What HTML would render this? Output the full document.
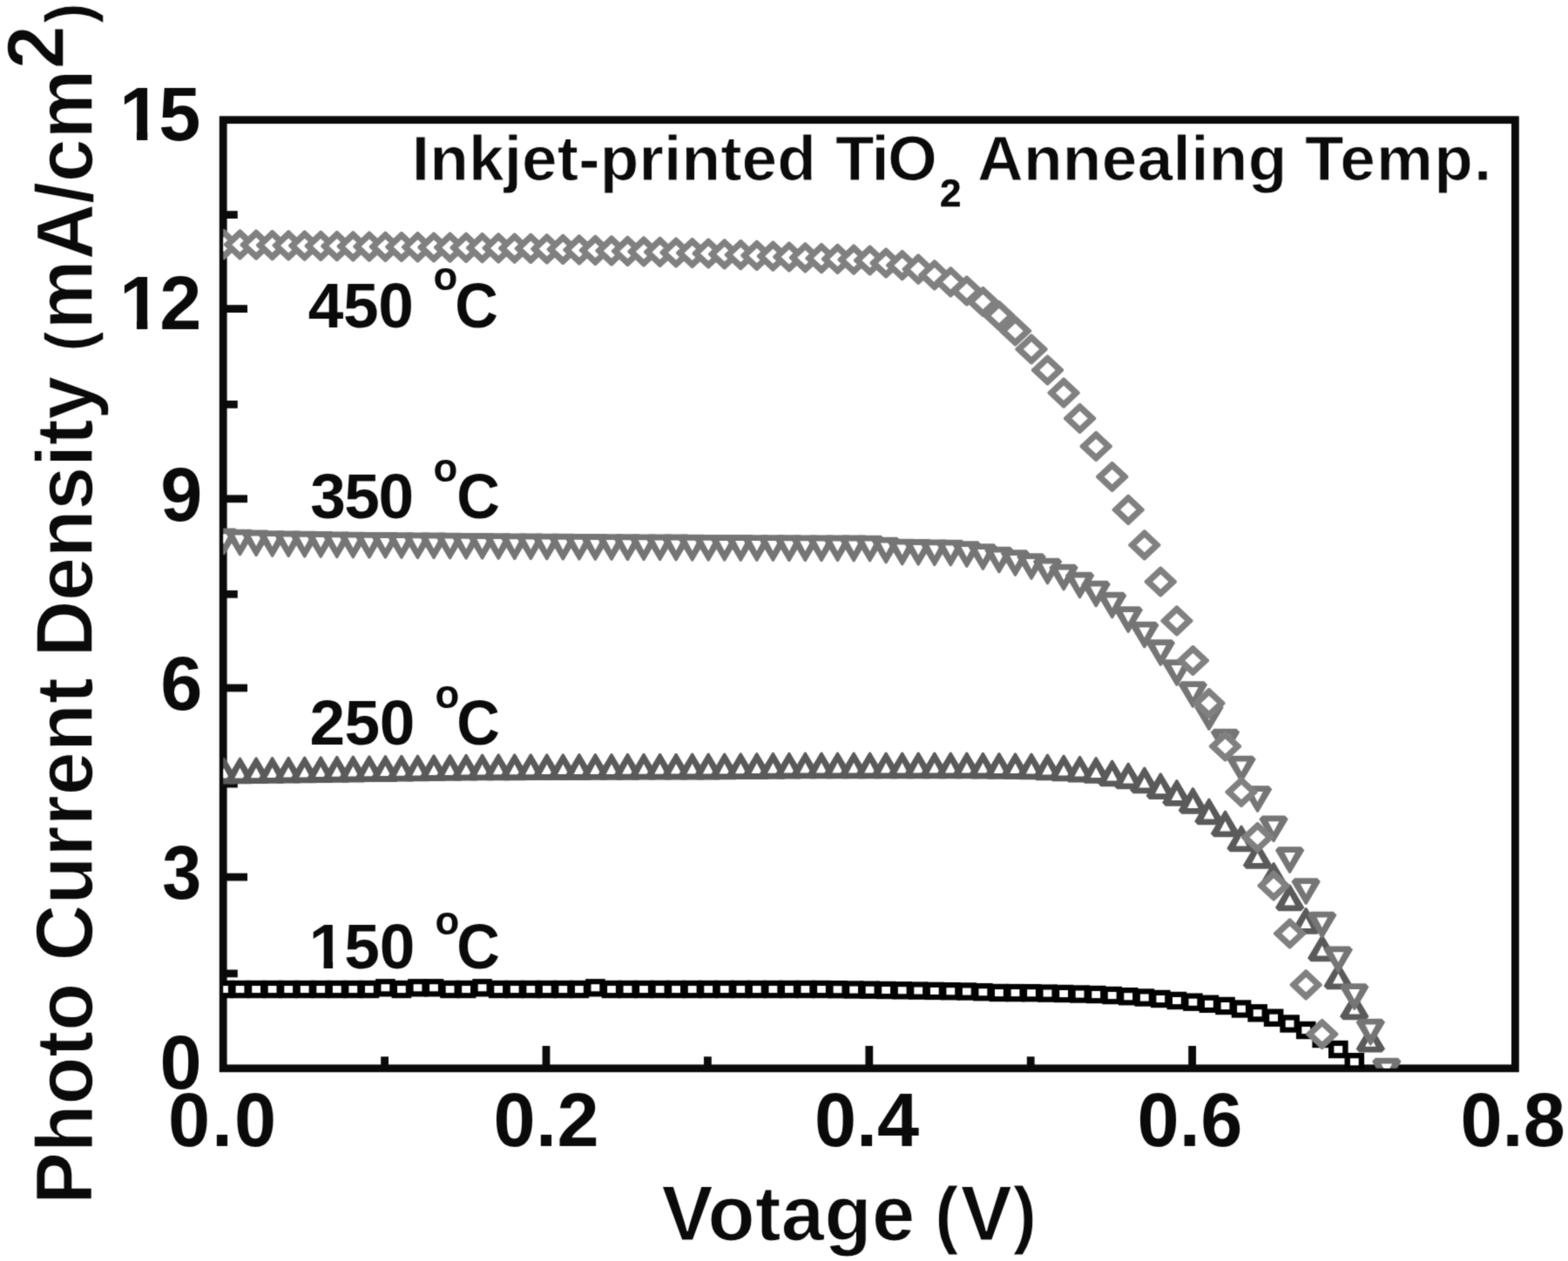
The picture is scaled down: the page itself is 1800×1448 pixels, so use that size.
<!DOCTYPE html>
<html lang="en">
<head>
<meta charset="utf-8">
<title>Photo Current Density vs Votage</title>
<style>
html,body{margin:0;padding:0;background:#fff;}
body{width:1800px;height:1448px;overflow:hidden;}
svg{display:block;}
text{font-family:"Liberation Sans",sans-serif;font-weight:bold;fill:#0a0a0a;}
</style>
</head>
<body>
<svg width="1800" height="1448" viewBox="0 0 1800 1448">
<filter id="soften" x="0" y="0" width="1800" height="1448" filterUnits="userSpaceOnUse" color-interpolation-filters="sRGB"><feConvolveMatrix order="3" kernelMatrix="1 4 1 4 16 4 1 4 1" divisor="36" edgeMode="duplicate" preserveAlpha="true"/></filter>
<g filter="url(#soften)">
<rect width="1800" height="1448" fill="#fff"/>
<g fill="#0a0a0a">
<rect x="256.2" y="1002.7" width="27.8" height="8.8"/>
<rect x="256.2" y="785.6" width="27.8" height="8.8"/>
<rect x="256.2" y="568.4" width="27.8" height="8.8"/>
<rect x="256.2" y="350.2" width="27.8" height="8.8"/>
<rect x="256.2" y="1113.5" width="16.6" height="8.8"/>
<rect x="256.2" y="895.7" width="16.6" height="8.8"/>
<rect x="256.2" y="677.9" width="16.6" height="8.8"/>
<rect x="256.2" y="460" width="16.6" height="8.8"/>
<rect x="256.2" y="242.2" width="16.6" height="8.8"/>
<rect x="622.6" y="1201" width="8.8" height="25.8"/>
<rect x="993.4" y="1201" width="8.8" height="25.8"/>
<rect x="1364.2" y="1201" width="8.8" height="25.8"/>
<rect x="437.2" y="1213.3" width="8.8" height="13.5"/>
<rect x="808" y="1213.3" width="8.8" height="13.5"/>
<rect x="1178.8" y="1213.3" width="8.8" height="13.5"/>
<rect x="1549.6" y="1213.3" width="8.8" height="13.5"/>
</g>
<rect x="256.2" y="137.7" width="1483.2" height="1089.1" fill="none" stroke="#0a0a0a" stroke-width="8.8"/>
<clipPath id="plotArea"><rect x="256.2" y="137.7" width="1483.2" height="1089.1"/></clipPath>
<g clip-path="url(#plotArea)">
<g>
<rect x="245.7" y="1125.8" width="22.6" height="20.4" fill="#000000"/><rect x="252.1" y="1132" width="9.8" height="8.1" fill="#fff"/><rect x="264.2" y="1125.8" width="22.6" height="20.4" fill="#000000"/><rect x="270.6" y="1132" width="9.8" height="8.1" fill="#fff"/><rect x="282.8" y="1125.8" width="22.6" height="20.4" fill="#000000"/><rect x="289.2" y="1132" width="9.8" height="8.1" fill="#fff"/><rect x="301.3" y="1125.8" width="22.6" height="20.4" fill="#000000"/><rect x="307.7" y="1132" width="9.8" height="8.1" fill="#fff"/><rect x="319.9" y="1125.8" width="22.6" height="20.4" fill="#000000"/><rect x="326.3" y="1132" width="9.8" height="8.1" fill="#fff"/><rect x="338.4" y="1125.8" width="22.6" height="20.4" fill="#000000"/><rect x="344.8" y="1132" width="9.8" height="8.1" fill="#fff"/><rect x="356.9" y="1125.8" width="22.6" height="20.4" fill="#000000"/><rect x="363.3" y="1132" width="9.8" height="8.1" fill="#fff"/><rect x="375.5" y="1125.8" width="22.6" height="20.4" fill="#000000"/><rect x="381.9" y="1132" width="9.8" height="8.1" fill="#fff"/><rect x="394" y="1125.8" width="22.6" height="20.4" fill="#000000"/><rect x="400.4" y="1132" width="9.8" height="8.1" fill="#fff"/><rect x="412.6" y="1125.8" width="22.6" height="20.4" fill="#000000"/><rect x="419" y="1132" width="9.8" height="8.1" fill="#fff"/><rect x="431.1" y="1124.1" width="22.6" height="20.4" fill="#000000"/><rect x="437.5" y="1130.2" width="9.8" height="8.1" fill="#fff"/><rect x="449.6" y="1125.8" width="22.6" height="20.4" fill="#000000"/><rect x="456" y="1132" width="9.8" height="8.1" fill="#fff"/><rect x="468.2" y="1124.1" width="22.6" height="20.4" fill="#000000"/><rect x="474.6" y="1130.2" width="9.8" height="8.1" fill="#fff"/><rect x="486.7" y="1124.1" width="22.6" height="20.4" fill="#000000"/><rect x="493.1" y="1130.2" width="9.8" height="8.1" fill="#fff"/><rect x="505.3" y="1125.8" width="22.6" height="20.4" fill="#000000"/><rect x="511.7" y="1132" width="9.8" height="8.1" fill="#fff"/><rect x="523.8" y="1125.8" width="22.6" height="20.4" fill="#000000"/><rect x="530.2" y="1132" width="9.8" height="8.1" fill="#fff"/><rect x="542.3" y="1124.1" width="22.6" height="20.4" fill="#000000"/><rect x="548.7" y="1130.2" width="9.8" height="8.1" fill="#fff"/><rect x="560.9" y="1125.8" width="22.6" height="20.4" fill="#000000"/><rect x="567.3" y="1132" width="9.8" height="8.1" fill="#fff"/><rect x="579.4" y="1125.8" width="22.6" height="20.4" fill="#000000"/><rect x="585.8" y="1132" width="9.8" height="8.1" fill="#fff"/><rect x="598" y="1125.8" width="22.6" height="20.4" fill="#000000"/><rect x="604.4" y="1132" width="9.8" height="8.1" fill="#fff"/><rect x="616.5" y="1125.8" width="22.6" height="20.4" fill="#000000"/><rect x="622.9" y="1132" width="9.8" height="8.1" fill="#fff"/><rect x="635" y="1125.8" width="22.6" height="20.4" fill="#000000"/><rect x="641.4" y="1132" width="9.8" height="8.1" fill="#fff"/><rect x="653.6" y="1125.8" width="22.6" height="20.4" fill="#000000"/><rect x="660" y="1132" width="9.8" height="8.1" fill="#fff"/><rect x="672.1" y="1124.1" width="22.6" height="20.4" fill="#000000"/><rect x="678.5" y="1130.2" width="9.8" height="8.1" fill="#fff"/><rect x="690.7" y="1125.8" width="22.6" height="20.4" fill="#000000"/><rect x="697.1" y="1132" width="9.8" height="8.1" fill="#fff"/><rect x="709.2" y="1125.8" width="22.6" height="20.4" fill="#000000"/><rect x="715.6" y="1132" width="9.8" height="8.1" fill="#fff"/><rect x="727.7" y="1125.8" width="22.6" height="20.4" fill="#000000"/><rect x="734.1" y="1132" width="9.8" height="8.1" fill="#fff"/><rect x="746.3" y="1125.8" width="22.6" height="20.4" fill="#000000"/><rect x="752.7" y="1132" width="9.8" height="8.1" fill="#fff"/><rect x="764.8" y="1125.8" width="22.6" height="20.4" fill="#000000"/><rect x="771.2" y="1132" width="9.8" height="8.1" fill="#fff"/><rect x="783.4" y="1125.8" width="22.6" height="20.4" fill="#000000"/><rect x="789.8" y="1132" width="9.8" height="8.1" fill="#fff"/><rect x="801.9" y="1125.8" width="22.6" height="20.4" fill="#000000"/><rect x="808.3" y="1132" width="9.8" height="8.1" fill="#fff"/><rect x="820.4" y="1125.8" width="22.6" height="20.4" fill="#000000"/><rect x="826.8" y="1132" width="9.8" height="8.1" fill="#fff"/><rect x="839" y="1125.8" width="22.6" height="20.4" fill="#000000"/><rect x="845.4" y="1132" width="9.8" height="8.1" fill="#fff"/><rect x="857.5" y="1125.8" width="22.6" height="20.4" fill="#000000"/><rect x="863.9" y="1132" width="9.8" height="8.1" fill="#fff"/><rect x="876.1" y="1125.8" width="22.6" height="20.4" fill="#000000"/><rect x="882.5" y="1132" width="9.8" height="8.1" fill="#fff"/><rect x="894.6" y="1125.8" width="22.6" height="20.4" fill="#000000"/><rect x="901" y="1132" width="9.8" height="8.1" fill="#fff"/><rect x="913.1" y="1125.8" width="22.6" height="20.4" fill="#000000"/><rect x="919.5" y="1132" width="9.8" height="8.1" fill="#fff"/><rect x="931.7" y="1125.8" width="22.6" height="20.4" fill="#000000"/><rect x="938.1" y="1132" width="9.8" height="8.1" fill="#fff"/><rect x="950.2" y="1126" width="22.6" height="20.4" fill="#000000"/><rect x="956.6" y="1132.2" width="9.8" height="8.1" fill="#fff"/><rect x="968.8" y="1126.3" width="22.6" height="20.4" fill="#000000"/><rect x="975.2" y="1132.5" width="9.8" height="8.1" fill="#fff"/><rect x="987.3" y="1126.5" width="22.6" height="20.4" fill="#000000"/><rect x="993.7" y="1132.7" width="9.8" height="8.1" fill="#fff"/><rect x="1005.8" y="1126.8" width="22.6" height="20.4" fill="#000000"/><rect x="1012.2" y="1133" width="9.8" height="8.1" fill="#fff"/><rect x="1024.4" y="1127.1" width="22.6" height="20.4" fill="#000000"/><rect x="1030.8" y="1133.2" width="9.8" height="8.1" fill="#fff"/><rect x="1042.9" y="1127.4" width="22.6" height="20.4" fill="#000000"/><rect x="1049.3" y="1133.5" width="9.8" height="8.1" fill="#fff"/><rect x="1061.5" y="1127.7" width="22.6" height="20.4" fill="#000000"/><rect x="1067.9" y="1133.9" width="9.8" height="8.1" fill="#fff"/><rect x="1080" y="1128" width="22.6" height="20.4" fill="#000000"/><rect x="1086.4" y="1134.2" width="9.8" height="8.1" fill="#fff"/><rect x="1098.5" y="1128.3" width="22.6" height="20.4" fill="#000000"/><rect x="1104.9" y="1134.5" width="9.8" height="8.1" fill="#fff"/><rect x="1117.1" y="1129" width="22.6" height="20.4" fill="#000000"/><rect x="1123.5" y="1135.2" width="9.8" height="8.1" fill="#fff"/><rect x="1135.6" y="1129.8" width="22.6" height="20.4" fill="#000000"/><rect x="1142" y="1136" width="9.8" height="8.1" fill="#fff"/><rect x="1154.2" y="1129.9" width="22.6" height="20.4" fill="#000000"/><rect x="1160.6" y="1136" width="9.8" height="8.1" fill="#fff"/><rect x="1172.7" y="1130" width="22.6" height="20.4" fill="#000000"/><rect x="1179.1" y="1136.2" width="9.8" height="8.1" fill="#fff"/><rect x="1191.2" y="1130.4" width="22.6" height="20.4" fill="#000000"/><rect x="1197.6" y="1136.5" width="9.8" height="8.1" fill="#fff"/><rect x="1209.8" y="1130.8" width="22.6" height="20.4" fill="#000000"/><rect x="1216.2" y="1137" width="9.8" height="8.1" fill="#fff"/><rect x="1228.3" y="1131.3" width="22.6" height="20.4" fill="#000000"/><rect x="1234.7" y="1137.5" width="9.8" height="8.1" fill="#fff"/><rect x="1246.9" y="1131.8" width="22.6" height="20.4" fill="#000000"/><rect x="1253.3" y="1138" width="9.8" height="8.1" fill="#fff"/><rect x="1265.4" y="1132.8" width="22.6" height="20.4" fill="#000000"/><rect x="1271.8" y="1139" width="9.8" height="8.1" fill="#fff"/><rect x="1283.9" y="1134" width="22.6" height="20.4" fill="#000000"/><rect x="1290.3" y="1140.2" width="9.8" height="8.1" fill="#fff"/><rect x="1302.5" y="1135.3" width="22.6" height="20.4" fill="#000000"/><rect x="1308.9" y="1141.5" width="9.8" height="8.1" fill="#fff"/><rect x="1321" y="1136.8" width="22.6" height="20.4" fill="#000000"/><rect x="1327.4" y="1143" width="9.8" height="8.1" fill="#fff"/><rect x="1339.6" y="1138.8" width="22.6" height="20.4" fill="#000000"/><rect x="1346" y="1145" width="9.8" height="8.1" fill="#fff"/><rect x="1358.1" y="1140.5" width="22.6" height="20.4" fill="#000000"/><rect x="1364.5" y="1146.7" width="9.8" height="8.1" fill="#fff"/><rect x="1376.6" y="1142.6" width="22.6" height="20.4" fill="#000000"/><rect x="1383" y="1148.8" width="9.8" height="8.1" fill="#fff"/><rect x="1395.2" y="1144.8" width="22.6" height="20.4" fill="#000000"/><rect x="1401.6" y="1151" width="9.8" height="8.1" fill="#fff"/><rect x="1413.7" y="1148.3" width="22.6" height="20.4" fill="#000000"/><rect x="1420.1" y="1154.5" width="9.8" height="8.1" fill="#fff"/><rect x="1432.3" y="1153.1" width="22.6" height="20.4" fill="#000000"/><rect x="1438.7" y="1159.2" width="9.8" height="8.1" fill="#fff"/><rect x="1450.8" y="1158.5" width="22.6" height="20.4" fill="#000000"/><rect x="1457.2" y="1164.7" width="9.8" height="8.1" fill="#fff"/><rect x="1469.3" y="1165.3" width="22.6" height="20.4" fill="#000000"/><rect x="1475.7" y="1171.5" width="9.8" height="8.1" fill="#fff"/><rect x="1487.9" y="1172.8" width="22.6" height="20.4" fill="#000000"/><rect x="1494.3" y="1179" width="9.8" height="8.1" fill="#fff"/><rect x="1506.4" y="1182.8" width="22.6" height="20.4" fill="#000000"/><rect x="1512.8" y="1189" width="9.8" height="8.1" fill="#fff"/><rect x="1525" y="1194.8" width="22.6" height="20.4" fill="#000000"/><rect x="1531.4" y="1201" width="9.8" height="8.1" fill="#fff"/><rect x="1543.5" y="1209" width="22.6" height="20.4" fill="#000000"/><rect x="1549.9" y="1215.2" width="9.8" height="8.1" fill="#fff"/>
</g>
<g>
<polygon points="244,900.5 270,900.5 273.8,896.4 258,869.9 256,869.9 240.2,896.4" fill="#5a5a5a"/><polygon points="250.8,893.6 263.2,893.6 257,881.9" fill="#fff"/><polygon points="262.5,900.3 288.5,900.3 292.3,896.2 276.5,869.7 274.5,869.7 258.8,896.2" fill="#5a5a5a"/><polygon points="269.3,893.4 281.8,893.4 275.5,881.7" fill="#fff"/><polygon points="281.1,900.1 307.1,900.1 310.8,896 295.1,869.5 293.1,869.5 277.3,896" fill="#5a5a5a"/><polygon points="287.8,893.2 300.3,893.2 294.1,881.5" fill="#fff"/><polygon points="299.6,899.8 325.6,899.8 329.4,895.7 313.6,869.2 311.6,869.2 295.9,895.7" fill="#5a5a5a"/><polygon points="306.4,892.9 318.9,892.9 312.6,881.2" fill="#fff"/><polygon points="318.2,899.5 344.2,899.5 347.9,895.4 332.2,868.9 330.2,868.9 314.4,895.4" fill="#5a5a5a"/><polygon points="324.9,892.6 337.4,892.6 331.2,880.9" fill="#fff"/><polygon points="336.7,899.3 362.7,899.3 366.4,895.2 350.7,868.7 348.7,868.7 332.9,895.2" fill="#5a5a5a"/><polygon points="343.4,892.4 355.9,892.4 349.7,880.7" fill="#fff"/><polygon points="355.2,899 381.2,899 385,894.9 369.2,868.4 367.2,868.4 351.5,894.9" fill="#5a5a5a"/><polygon points="362,892.1 374.5,892.1 368.2,880.4" fill="#fff"/><polygon points="373.8,898.7 399.8,898.7 403.5,894.6 387.8,868.1 385.8,868.1 370,894.6" fill="#5a5a5a"/><polygon points="380.5,891.8 393,891.8 386.8,880.1" fill="#fff"/><polygon points="392.3,898.4 418.3,898.4 422.1,894.3 406.3,867.8 404.3,867.8 388.6,894.3" fill="#5a5a5a"/><polygon points="399.1,891.5 411.6,891.5 405.3,879.8" fill="#fff"/><polygon points="410.9,898.1 436.9,898.1 440.6,894 424.9,867.5 422.9,867.5 407.1,894" fill="#5a5a5a"/><polygon points="417.6,891.2 430.1,891.2 423.9,879.5" fill="#fff"/><polygon points="429.4,897.9 455.4,897.9 459.1,893.8 443.4,867.3 441.4,867.3 425.6,893.8" fill="#5a5a5a"/><polygon points="436.1,891 448.6,891 442.4,879.3" fill="#fff"/><polygon points="447.9,897.6 473.9,897.6 477.7,893.5 461.9,867 459.9,867 444.2,893.5" fill="#5a5a5a"/><polygon points="454.7,890.7 467.2,890.7 460.9,879" fill="#fff"/><polygon points="466.5,897.3 492.5,897.3 496.2,893.2 480.5,866.7 478.5,866.7 462.7,893.2" fill="#5a5a5a"/><polygon points="473.2,890.4 485.7,890.4 479.5,878.7" fill="#fff"/><polygon points="485,897 511,897 514.8,893 499,866.5 497,866.5 481.3,893" fill="#5a5a5a"/><polygon points="491.8,890.1 504.3,890.1 498,878.5" fill="#fff"/><polygon points="503.6,896.8 529.6,896.8 533.3,892.7 517.6,866.2 515.6,866.2 499.8,892.7" fill="#5a5a5a"/><polygon points="510.3,889.9 522.8,889.9 516.6,878.2" fill="#fff"/><polygon points="522.1,896.5 548.1,896.5 551.8,892.5 536.1,866 534.1,866 518.3,892.5" fill="#5a5a5a"/><polygon points="528.8,889.6 541.3,889.6 535.1,878" fill="#fff"/><polygon points="540.6,896.3 566.6,896.3 570.4,892.2 554.6,865.7 552.6,865.7 536.9,892.2" fill="#5a5a5a"/><polygon points="547.4,889.4 559.9,889.4 553.6,877.7" fill="#fff"/><polygon points="559.2,896.2 585.2,896.2 588.9,892.1 573.2,865.6 571.2,865.6 555.4,892.1" fill="#5a5a5a"/><polygon points="565.9,889.3 578.4,889.3 572.2,877.6" fill="#fff"/><polygon points="577.7,896.2 603.7,896.2 607.5,892.1 591.7,865.6 589.7,865.6 574,892.1" fill="#5a5a5a"/><polygon points="584.5,889.3 597,889.3 590.7,877.6" fill="#fff"/><polygon points="596.3,896.1 622.3,896.1 626,892 610.3,865.5 608.3,865.5 592.5,892" fill="#5a5a5a"/><polygon points="603,889.2 615.5,889.2 609.3,877.5" fill="#fff"/><polygon points="614.8,896 640.8,896 644.5,891.9 628.8,865.4 626.8,865.4 611,891.9" fill="#5a5a5a"/><polygon points="621.5,889.1 634,889.1 627.8,877.4" fill="#fff"/><polygon points="633.3,896 659.3,896 663.1,891.9 647.3,865.4 645.3,865.4 629.6,891.9" fill="#5a5a5a"/><polygon points="640.1,889.1 652.6,889.1 646.3,877.4" fill="#fff"/><polygon points="651.9,895.9 677.9,895.9 681.6,891.8 665.9,865.3 663.9,865.3 648.1,891.8" fill="#5a5a5a"/><polygon points="658.6,889 671.1,889 664.9,877.3" fill="#fff"/><polygon points="670.4,895.8 696.4,895.8 700.2,891.7 684.4,865.2 682.4,865.2 666.7,891.7" fill="#5a5a5a"/><polygon points="677.2,888.9 689.7,888.9 683.4,877.2" fill="#fff"/><polygon points="689,895.8 715,895.8 718.7,891.7 703,865.2 701,865.2 685.2,891.7" fill="#5a5a5a"/><polygon points="695.7,888.9 708.2,888.9 702,877.2" fill="#fff"/><polygon points="707.5,895.7 733.5,895.7 737.2,891.6 721.5,865.1 719.5,865.1 703.8,891.6" fill="#5a5a5a"/><polygon points="714.2,888.8 726.8,888.8 720.5,877.1" fill="#fff"/><polygon points="726,895.6 752,895.6 755.8,891.5 740,865 738,865 722.3,891.5" fill="#5a5a5a"/><polygon points="732.8,888.7 745.3,888.7 739,877" fill="#fff"/><polygon points="744.6,895.6 770.6,895.6 774.3,891.5 758.6,865 756.6,865 740.8,891.5" fill="#5a5a5a"/><polygon points="751.3,888.7 763.8,888.7 757.6,877" fill="#fff"/><polygon points="763.1,895.5 789.1,895.5 792.9,891.4 777.1,864.9 775.1,864.9 759.4,891.4" fill="#5a5a5a"/><polygon points="769.9,888.6 782.4,888.6 776.1,876.9" fill="#fff"/><polygon points="781.7,895.4 807.7,895.4 811.4,891.3 795.7,864.8 793.7,864.8 777.9,891.3" fill="#5a5a5a"/><polygon points="788.4,888.5 800.9,888.5 794.7,876.8" fill="#fff"/><polygon points="800.2,895.4 826.2,895.4 829.9,891.3 814.2,864.8 812.2,864.8 796.4,891.3" fill="#5a5a5a"/><polygon points="806.9,888.5 819.4,888.5 813.2,876.8" fill="#fff"/><polygon points="818.7,895.3 844.7,895.3 848.5,891.2 832.7,864.7 830.7,864.7 815,891.2" fill="#5a5a5a"/><polygon points="825.5,888.4 838,888.4 831.7,876.7" fill="#fff"/><polygon points="837.3,895.1 863.3,895.1 867,891 851.3,864.5 849.3,864.5 833.5,891" fill="#5a5a5a"/><polygon points="844,888.2 856.5,888.2 850.3,876.5" fill="#fff"/><polygon points="855.8,894.9 881.8,894.9 885.6,890.8 869.8,864.3 867.8,864.3 852.1,890.8" fill="#5a5a5a"/><polygon points="862.6,888 875.1,888 868.8,876.3" fill="#fff"/><polygon points="874.4,894.7 900.4,894.7 904.1,890.6 888.4,864.1 886.4,864.1 870.6,890.6" fill="#5a5a5a"/><polygon points="881.1,887.8 893.6,887.8 887.4,876.1" fill="#fff"/><polygon points="892.9,894.5 918.9,894.5 922.6,890.4 906.9,863.9 904.9,863.9 889.1,890.4" fill="#5a5a5a"/><polygon points="899.6,887.6 912.1,887.6 905.9,875.9" fill="#fff"/><polygon points="911.4,894.3 937.4,894.3 941.2,890.2 925.4,863.7 923.4,863.7 907.7,890.2" fill="#5a5a5a"/><polygon points="918.2,887.4 930.7,887.4 924.4,875.7" fill="#fff"/><polygon points="930,894.3 956,894.3 959.7,890.2 944,863.7 942,863.7 926.2,890.2" fill="#5a5a5a"/><polygon points="936.7,887.4 949.2,887.4 943,875.7" fill="#fff"/><polygon points="948.5,894.3 974.5,894.3 978.3,890.2 962.5,863.7 960.5,863.7 944.8,890.2" fill="#5a5a5a"/><polygon points="955.3,887.4 967.8,887.4 961.5,875.7" fill="#fff"/><polygon points="967.1,894.3 993.1,894.3 996.8,890.2 981.1,863.7 979.1,863.7 963.3,890.2" fill="#5a5a5a"/><polygon points="973.8,887.4 986.3,887.4 980.1,875.7" fill="#fff"/><polygon points="985.6,894.3 1011.6,894.3 1015.3,890.2 999.6,863.7 997.6,863.7 981.8,890.2" fill="#5a5a5a"/><polygon points="992.3,887.4 1004.8,887.4 998.6,875.7" fill="#fff"/><polygon points="1004.1,894.3 1030.1,894.3 1033.9,890.2 1018.1,863.7 1016.1,863.7 1000.4,890.2" fill="#5a5a5a"/><polygon points="1010.9,887.4 1023.4,887.4 1017.1,875.7" fill="#fff"/><polygon points="1022.7,894.3 1048.7,894.3 1052.4,890.2 1036.7,863.7 1034.7,863.7 1018.9,890.2" fill="#5a5a5a"/><polygon points="1029.4,887.4 1041.9,887.4 1035.7,875.7" fill="#fff"/><polygon points="1041.2,894.3 1067.2,894.3 1071,890.2 1055.2,863.7 1053.2,863.7 1037.5,890.2" fill="#5a5a5a"/><polygon points="1048,887.4 1060.5,887.4 1054.2,875.7" fill="#fff"/><polygon points="1059.8,894.3 1085.8,894.3 1089.5,890.2 1073.8,863.7 1071.8,863.7 1056,890.2" fill="#5a5a5a"/><polygon points="1066.5,887.4 1079,887.4 1072.8,875.7" fill="#fff"/><polygon points="1078.3,894.3 1104.3,894.3 1108,890.2 1092.3,863.7 1090.3,863.7 1074.5,890.2" fill="#5a5a5a"/><polygon points="1085,887.4 1097.5,887.4 1091.3,875.7" fill="#fff"/><polygon points="1096.8,894.3 1122.8,894.3 1126.6,890.2 1110.8,863.7 1108.8,863.7 1093.1,890.2" fill="#5a5a5a"/><polygon points="1103.6,887.4 1116.1,887.4 1109.8,875.7" fill="#fff"/><polygon points="1115.4,894.5 1141.4,894.5 1145.1,890.5 1129.4,864 1127.4,864 1111.6,890.5" fill="#5a5a5a"/><polygon points="1122.1,887.6 1134.6,887.6 1128.4,876" fill="#fff"/><polygon points="1133.9,894.8 1159.9,894.8 1163.7,890.7 1147.9,864.2 1145.9,864.2 1130.2,890.7" fill="#5a5a5a"/><polygon points="1140.7,887.9 1153.2,887.9 1146.9,876.2" fill="#fff"/><polygon points="1152.5,895 1178.5,895 1182.2,891 1166.5,864.5 1164.5,864.5 1148.7,891" fill="#5a5a5a"/><polygon points="1159.2,888.1 1171.7,888.1 1165.5,876.5" fill="#fff"/><polygon points="1171,895.3 1197,895.3 1200.8,891.2 1185,864.7 1183,864.7 1167.2,891.2" fill="#5a5a5a"/><polygon points="1177.8,888.4 1190.2,888.4 1184,876.7" fill="#fff"/><polygon points="1189.5,896.3 1215.5,896.3 1219.3,892.2 1203.5,865.7 1201.5,865.7 1185.8,892.2" fill="#5a5a5a"/><polygon points="1196.3,889.4 1208.8,889.4 1202.5,877.7" fill="#fff"/><polygon points="1208.1,897.3 1234.1,897.3 1237.8,893.2 1222.1,866.7 1220.1,866.7 1204.3,893.2" fill="#5a5a5a"/><polygon points="1214.8,890.4 1227.3,890.4 1221.1,878.7" fill="#fff"/><polygon points="1226.6,898.5 1252.6,898.5 1256.4,894.5 1240.6,868 1238.6,868 1222.9,894.5" fill="#5a5a5a"/><polygon points="1233.4,891.6 1245.9,891.6 1239.6,880" fill="#fff"/><polygon points="1245.2,899.8 1271.2,899.8 1274.9,895.7 1259.2,869.2 1257.2,869.2 1241.4,895.7" fill="#5a5a5a"/><polygon points="1251.9,892.9 1264.4,892.9 1258.2,881.2" fill="#fff"/><polygon points="1263.7,903.3 1289.7,903.3 1293.4,899.2 1277.7,872.7 1275.7,872.7 1259.9,899.2" fill="#5a5a5a"/><polygon points="1270.4,896.4 1282.9,896.4 1276.7,884.7" fill="#fff"/><polygon points="1282.2,906.3 1308.2,906.3 1312,902.2 1296.2,875.7 1294.2,875.7 1278.5,902.2" fill="#5a5a5a"/><polygon points="1289,899.4 1301.5,899.4 1295.2,887.7" fill="#fff"/><polygon points="1300.8,911.3 1326.8,911.3 1330.5,907.2 1314.8,880.7 1312.8,880.7 1297,907.2" fill="#5a5a5a"/><polygon points="1307.5,904.4 1320,904.4 1313.8,892.7" fill="#fff"/><polygon points="1319.3,918.1 1345.3,918.1 1349.1,914 1333.3,887.5 1331.3,887.5 1315.6,914" fill="#5a5a5a"/><polygon points="1326.1,911.2 1338.6,911.2 1332.3,899.5" fill="#fff"/><polygon points="1337.9,925.8 1363.9,925.8 1367.6,921.7 1351.9,895.2 1349.9,895.2 1334.1,921.7" fill="#5a5a5a"/><polygon points="1344.6,918.9 1357.1,918.9 1350.9,907.2" fill="#fff"/><polygon points="1356.4,934.8 1382.4,934.8 1386.1,930.7 1370.4,904.2 1368.4,904.2 1352.6,930.7" fill="#5a5a5a"/><polygon points="1363.1,927.9 1375.6,927.9 1369.4,916.2" fill="#fff"/><polygon points="1374.9,947.3 1400.9,947.3 1404.7,943.2 1388.9,916.7 1386.9,916.7 1371.2,943.2" fill="#5a5a5a"/><polygon points="1381.7,940.4 1394.2,940.4 1387.9,928.7" fill="#fff"/><polygon points="1393.5,961.3 1419.5,961.3 1423.2,957.2 1407.5,930.7 1405.5,930.7 1389.7,957.2" fill="#5a5a5a"/><polygon points="1400.2,954.4 1412.7,954.4 1406.5,942.7" fill="#fff"/><polygon points="1412,978.3 1438,978.3 1441.8,974.2 1426,947.7 1424,947.7 1408.3,974.2" fill="#5a5a5a"/><polygon points="1418.8,971.4 1431.3,971.4 1425,959.7" fill="#fff"/><polygon points="1430.6,997.8 1456.6,997.8 1460.3,993.7 1444.6,967.2 1442.6,967.2 1426.8,993.7" fill="#5a5a5a"/><polygon points="1437.3,990.9 1449.8,990.9 1443.6,979.2" fill="#fff"/><polygon points="1449.1,1020.8 1475.1,1020.8 1478.8,1016.7 1463.1,990.2 1461.1,990.2 1445.3,1016.7" fill="#5a5a5a"/><polygon points="1455.8,1013.9 1468.3,1013.9 1462.1,1002.2" fill="#fff"/><polygon points="1467.6,1046.3 1493.6,1046.3 1497.4,1042.2 1481.6,1015.7 1479.6,1015.7 1463.9,1042.2" fill="#5a5a5a"/><polygon points="1474.4,1039.4 1486.9,1039.4 1480.6,1027.7" fill="#fff"/><polygon points="1486.2,1072.8 1512.2,1072.8 1515.9,1068.7 1500.2,1042.2 1498.2,1042.2 1482.4,1068.7" fill="#5a5a5a"/><polygon points="1492.9,1065.9 1505.4,1065.9 1499.2,1054.2" fill="#fff"/><polygon points="1504.7,1104.3 1530.7,1104.3 1534.5,1100.2 1518.7,1073.7 1516.7,1073.7 1501,1100.2" fill="#5a5a5a"/><polygon points="1511.5,1097.4 1524,1097.4 1517.7,1085.7" fill="#fff"/><polygon points="1523.3,1136.3 1549.3,1136.3 1553,1132.2 1537.3,1105.7 1535.3,1105.7 1519.5,1132.2" fill="#5a5a5a"/><polygon points="1530,1129.4 1542.5,1129.4 1536.3,1117.7" fill="#fff"/><polygon points="1541.8,1171.3 1567.8,1171.3 1571.5,1167.2 1555.8,1140.7 1553.8,1140.7 1538,1167.2" fill="#5a5a5a"/><polygon points="1548.5,1164.4 1561,1164.4 1554.8,1152.7" fill="#fff"/><polygon points="1560.3,1208.6 1586.3,1208.6 1590.1,1204.5 1574.3,1178 1572.3,1178 1556.6,1204.5" fill="#5a5a5a"/><polygon points="1567.1,1201.7 1579.6,1201.7 1573.3,1190" fill="#fff"/>
</g>
<g>
<polygon points="244,606.4 270,606.4 273.8,610.5 258,637 256,637 240.2,610.5" fill="#757575"/><polygon points="250.8,613.3 263.2,613.3 257,625" fill="#fff"/><polygon points="262.5,607.7 288.5,607.7 292.3,611.8 276.5,638.3 274.5,638.3 258.8,611.8" fill="#757575"/><polygon points="269.3,614.6 281.8,614.6 275.5,626.3" fill="#fff"/><polygon points="281.1,608.5 307.1,608.5 310.8,612.5 295.1,639 293.1,639 277.3,612.5" fill="#757575"/><polygon points="287.8,615.4 300.3,615.4 294.1,627" fill="#fff"/><polygon points="299.6,609.2 325.6,609.2 329.4,613.3 313.6,639.8 311.6,639.8 295.9,613.3" fill="#757575"/><polygon points="306.4,616.1 318.9,616.1 312.6,627.8" fill="#fff"/><polygon points="318.2,609.5 344.2,609.5 347.9,613.6 332.2,640.1 330.2,640.1 314.4,613.6" fill="#757575"/><polygon points="324.9,616.4 337.4,616.4 331.2,628.1" fill="#fff"/><polygon points="336.7,609.8 362.7,609.8 366.4,613.9 350.7,640.4 348.7,640.4 332.9,613.9" fill="#757575"/><polygon points="343.4,616.7 355.9,616.7 349.7,628.4" fill="#fff"/><polygon points="355.2,610.1 381.2,610.1 385,614.2 369.2,640.7 367.2,640.7 351.5,614.2" fill="#757575"/><polygon points="362,617 374.5,617 368.2,628.7" fill="#fff"/><polygon points="373.8,610.4 399.8,610.4 403.5,614.5 387.8,641 385.8,641 370,614.5" fill="#757575"/><polygon points="380.5,617.3 393,617.3 386.8,629" fill="#fff"/><polygon points="392.3,610.7 418.3,610.7 422.1,614.8 406.3,641.3 404.3,641.3 388.6,614.8" fill="#757575"/><polygon points="399.1,617.6 411.6,617.6 405.3,629.3" fill="#fff"/><polygon points="410.9,610.9 436.9,610.9 440.6,615 424.9,641.5 422.9,641.5 407.1,615" fill="#757575"/><polygon points="417.6,617.8 430.1,617.8 423.9,629.5" fill="#fff"/><polygon points="429.4,611 455.4,611 459.1,615.1 443.4,641.6 441.4,641.6 425.6,615.1" fill="#757575"/><polygon points="436.1,617.9 448.6,617.9 442.4,629.6" fill="#fff"/><polygon points="447.9,611.2 473.9,611.2 477.7,615.3 461.9,641.8 459.9,641.8 444.2,615.3" fill="#757575"/><polygon points="454.7,618.1 467.2,618.1 460.9,629.8" fill="#fff"/><polygon points="466.5,611.4 492.5,611.4 496.2,615.5 480.5,642 478.5,642 462.7,615.5" fill="#757575"/><polygon points="473.2,618.3 485.7,618.3 479.5,630" fill="#fff"/><polygon points="485,611.5 511,611.5 514.8,615.6 499,642.1 497,642.1 481.3,615.6" fill="#757575"/><polygon points="491.8,618.4 504.3,618.4 498,630.1" fill="#fff"/><polygon points="503.6,611.7 529.6,611.7 533.3,615.8 517.6,642.3 515.6,642.3 499.8,615.8" fill="#757575"/><polygon points="510.3,618.6 522.8,618.6 516.6,630.3" fill="#fff"/><polygon points="522.1,611.9 548.1,611.9 551.8,616 536.1,642.5 534.1,642.5 518.3,616" fill="#757575"/><polygon points="528.8,618.8 541.3,618.8 535.1,630.5" fill="#fff"/><polygon points="540.6,612 566.6,612 570.4,616.1 554.6,642.6 552.6,642.6 536.9,616.1" fill="#757575"/><polygon points="547.4,618.9 559.9,618.9 553.6,630.6" fill="#fff"/><polygon points="559.2,612.2 585.2,612.2 588.9,616.3 573.2,642.8 571.2,642.8 555.4,616.3" fill="#757575"/><polygon points="565.9,619.1 578.4,619.1 572.2,630.8" fill="#fff"/><polygon points="577.7,612.4 603.7,612.4 607.5,616.5 591.7,643 589.7,643 574,616.5" fill="#757575"/><polygon points="584.5,619.3 597,619.3 590.7,631" fill="#fff"/><polygon points="596.3,612.5 622.3,612.5 626,616.6 610.3,643.1 608.3,643.1 592.5,616.6" fill="#757575"/><polygon points="603,619.4 615.5,619.4 609.3,631.1" fill="#fff"/><polygon points="614.8,612.7 640.8,612.7 644.5,616.8 628.8,643.3 626.8,643.3 611,616.8" fill="#757575"/><polygon points="621.5,619.6 634,619.6 627.8,631.3" fill="#fff"/><polygon points="633.3,612.8 659.3,612.8 663.1,616.9 647.3,643.4 645.3,643.4 629.6,616.9" fill="#757575"/><polygon points="640.1,619.7 652.6,619.7 646.3,631.4" fill="#fff"/><polygon points="651.9,612.9 677.9,612.9 681.6,617 665.9,643.5 663.9,643.5 648.1,617" fill="#757575"/><polygon points="658.6,619.8 671.1,619.8 664.9,631.5" fill="#fff"/><polygon points="670.4,613.1 696.4,613.1 700.2,617.2 684.4,643.7 682.4,643.7 666.7,617.2" fill="#757575"/><polygon points="677.2,620 689.7,620 683.4,631.7" fill="#fff"/><polygon points="689,613.2 715,613.2 718.7,617.3 703,643.8 701,643.8 685.2,617.3" fill="#757575"/><polygon points="695.7,620.1 708.2,620.1 702,631.8" fill="#fff"/><polygon points="707.5,613.3 733.5,613.3 737.2,617.4 721.5,643.9 719.5,643.9 703.8,617.4" fill="#757575"/><polygon points="714.2,620.2 726.8,620.2 720.5,631.9" fill="#fff"/><polygon points="726,613.4 752,613.4 755.8,617.5 740,644 738,644 722.3,617.5" fill="#757575"/><polygon points="732.8,620.3 745.3,620.3 739,632" fill="#fff"/><polygon points="744.6,613.5 770.6,613.5 774.3,617.6 758.6,644.1 756.6,644.1 740.8,617.6" fill="#757575"/><polygon points="751.3,620.4 763.8,620.4 757.6,632.1" fill="#fff"/><polygon points="763.1,613.6 789.1,613.6 792.9,617.7 777.1,644.2 775.1,644.2 759.4,617.7" fill="#757575"/><polygon points="769.9,620.5 782.4,620.5 776.1,632.2" fill="#fff"/><polygon points="781.7,613.8 807.7,613.8 811.4,617.9 795.7,644.4 793.7,644.4 777.9,617.9" fill="#757575"/><polygon points="788.4,620.7 800.9,620.7 794.7,632.4" fill="#fff"/><polygon points="800.2,613.9 826.2,613.9 829.9,618 814.2,644.5 812.2,644.5 796.4,618" fill="#757575"/><polygon points="806.9,620.8 819.4,620.8 813.2,632.5" fill="#fff"/><polygon points="818.7,614 844.7,614 848.5,618.1 832.7,644.6 830.7,644.6 815,618.1" fill="#757575"/><polygon points="825.5,620.9 838,620.9 831.7,632.6" fill="#fff"/><polygon points="837.3,614.1 863.3,614.1 867,618.2 851.3,644.7 849.3,644.7 833.5,618.2" fill="#757575"/><polygon points="844,621 856.5,621 850.3,632.7" fill="#fff"/><polygon points="855.8,614.2 881.8,614.2 885.6,618.3 869.8,644.8 867.8,644.8 852.1,618.3" fill="#757575"/><polygon points="862.6,621.1 875.1,621.1 868.8,632.8" fill="#fff"/><polygon points="874.4,614.2 900.4,614.2 904.1,618.3 888.4,644.8 886.4,644.8 870.6,618.3" fill="#757575"/><polygon points="881.1,621.1 893.6,621.1 887.4,632.8" fill="#fff"/><polygon points="892.9,614.3 918.9,614.3 922.6,618.4 906.9,644.9 904.9,644.9 889.1,618.4" fill="#757575"/><polygon points="899.6,621.2 912.1,621.2 905.9,632.9" fill="#fff"/><polygon points="911.4,614.4 937.4,614.4 941.2,618.5 925.4,645 923.4,645 907.7,618.5" fill="#757575"/><polygon points="918.2,621.3 930.7,621.3 924.4,633" fill="#fff"/><polygon points="930,614.5 956,614.5 959.7,618.6 944,645.1 942,645.1 926.2,618.6" fill="#757575"/><polygon points="936.7,621.4 949.2,621.4 943,633.1" fill="#fff"/><polygon points="948.5,614.5 974.5,614.5 978.3,618.6 962.5,645.1 960.5,645.1 944.8,618.6" fill="#757575"/><polygon points="955.3,621.4 967.8,621.4 961.5,633.1" fill="#fff"/><polygon points="967.1,614.6 993.1,614.6 996.8,618.7 981.1,645.2 979.1,645.2 963.3,618.7" fill="#757575"/><polygon points="973.8,621.5 986.3,621.5 980.1,633.2" fill="#fff"/><polygon points="985.6,614.7 1011.6,614.7 1015.3,618.8 999.6,645.3 997.6,645.3 981.8,618.8" fill="#757575"/><polygon points="992.3,621.6 1004.8,621.6 998.6,633.3" fill="#fff"/><polygon points="1004.1,616.7 1030.1,616.7 1033.9,620.8 1018.1,647.3 1016.1,647.3 1000.4,620.8" fill="#757575"/><polygon points="1010.9,623.6 1023.4,623.6 1017.1,635.3" fill="#fff"/><polygon points="1022.7,618.7 1048.7,618.7 1052.4,622.8 1036.7,649.3 1034.7,649.3 1018.9,622.8" fill="#757575"/><polygon points="1029.4,625.6 1041.9,625.6 1035.7,637.3" fill="#fff"/><polygon points="1041.2,619 1067.2,619 1071,623.1 1055.2,649.6 1053.2,649.6 1037.5,623.1" fill="#757575"/><polygon points="1048,625.9 1060.5,625.9 1054.2,637.6" fill="#fff"/><polygon points="1059.8,619.4 1085.8,619.4 1089.5,623.5 1073.8,650 1071.8,650 1056,623.5" fill="#757575"/><polygon points="1066.5,626.3 1079,626.3 1072.8,638" fill="#fff"/><polygon points="1078.3,619.7 1104.3,619.7 1108,623.8 1092.3,650.3 1090.3,650.3 1074.5,623.8" fill="#757575"/><polygon points="1085,626.6 1097.5,626.6 1091.3,638.3" fill="#fff"/><polygon points="1096.8,621.2 1122.8,621.2 1126.6,625.3 1110.8,651.8 1108.8,651.8 1093.1,625.3" fill="#757575"/><polygon points="1103.6,628.1 1116.1,628.1 1109.8,639.8" fill="#fff"/><polygon points="1115.4,624.2 1141.4,624.2 1145.1,628.3 1129.4,654.8 1127.4,654.8 1111.6,628.3" fill="#757575"/><polygon points="1122.1,631.1 1134.6,631.1 1128.4,642.8" fill="#fff"/><polygon points="1133.9,627.7 1159.9,627.7 1163.7,631.8 1147.9,658.3 1145.9,658.3 1130.2,631.8" fill="#757575"/><polygon points="1140.7,634.6 1153.2,634.6 1146.9,646.3" fill="#fff"/><polygon points="1152.5,631.2 1178.5,631.2 1182.2,635.3 1166.5,661.8 1164.5,661.8 1148.7,635.3" fill="#757575"/><polygon points="1159.2,638.1 1171.7,638.1 1165.5,649.8" fill="#fff"/><polygon points="1171,635.2 1197,635.2 1200.8,639.3 1185,665.8 1183,665.8 1167.2,639.3" fill="#757575"/><polygon points="1177.8,642.1 1190.2,642.1 1184,653.8" fill="#fff"/><polygon points="1189.5,640.7 1215.5,640.7 1219.3,644.8 1203.5,671.3 1201.5,671.3 1185.8,644.8" fill="#757575"/><polygon points="1196.3,647.6 1208.8,647.6 1202.5,659.3" fill="#fff"/><polygon points="1208.1,647.7 1234.1,647.7 1237.8,651.8 1222.1,678.3 1220.1,678.3 1204.3,651.8" fill="#757575"/><polygon points="1214.8,654.6 1227.3,654.6 1221.1,666.3" fill="#fff"/><polygon points="1226.6,656.7 1252.6,656.7 1256.4,660.8 1240.6,687.3 1238.6,687.3 1222.9,660.8" fill="#757575"/><polygon points="1233.4,663.6 1245.9,663.6 1239.6,675.3" fill="#fff"/><polygon points="1245.2,666.7 1271.2,666.7 1274.9,670.8 1259.2,697.3 1257.2,697.3 1241.4,670.8" fill="#757575"/><polygon points="1251.9,673.6 1264.4,673.6 1258.2,685.3" fill="#fff"/><polygon points="1263.7,679.7 1289.7,679.7 1293.4,683.8 1277.7,710.3 1275.7,710.3 1259.9,683.8" fill="#757575"/><polygon points="1270.4,686.6 1282.9,686.6 1276.7,698.3" fill="#fff"/><polygon points="1282.2,696.2 1308.2,696.2 1312,700.3 1296.2,726.8 1294.2,726.8 1278.5,700.3" fill="#757575"/><polygon points="1289,703.1 1301.5,703.1 1295.2,714.8" fill="#fff"/><polygon points="1300.8,713.7 1326.8,713.7 1330.5,717.8 1314.8,744.3 1312.8,744.3 1297,717.8" fill="#757575"/><polygon points="1307.5,720.6 1320,720.6 1313.8,732.3" fill="#fff"/><polygon points="1319.3,734.2 1345.3,734.2 1349.1,738.3 1333.3,764.8 1331.3,764.8 1315.6,738.3" fill="#757575"/><polygon points="1326.1,741.1 1338.6,741.1 1332.3,752.8" fill="#fff"/><polygon points="1337.9,757.2 1363.9,757.2 1367.6,761.3 1351.9,787.8 1349.9,787.8 1334.1,761.3" fill="#757575"/><polygon points="1344.6,764.1 1357.1,764.1 1350.9,775.8" fill="#fff"/><polygon points="1356.4,782.2 1382.4,782.2 1386.1,786.3 1370.4,812.8 1368.4,812.8 1352.6,786.3" fill="#757575"/><polygon points="1363.1,789.1 1375.6,789.1 1369.4,800.8" fill="#fff"/><polygon points="1374.9,808.2 1400.9,808.2 1404.7,812.3 1388.9,838.8 1386.9,838.8 1371.2,812.3" fill="#757575"/><polygon points="1381.7,815.1 1394.2,815.1 1387.9,826.8" fill="#fff"/><polygon points="1393.5,836.7 1419.5,836.7 1423.2,840.8 1407.5,867.3 1405.5,867.3 1389.7,840.8" fill="#757575"/><polygon points="1400.2,843.6 1412.7,843.6 1406.5,855.3" fill="#fff"/><polygon points="1412,867.7 1438,867.7 1441.8,871.8 1426,898.3 1424,898.3 1408.3,871.8" fill="#757575"/><polygon points="1418.8,874.6 1431.3,874.6 1425,886.3" fill="#fff"/><polygon points="1430.6,902.2 1456.6,902.2 1460.3,906.3 1444.6,932.8 1442.6,932.8 1426.8,906.3" fill="#757575"/><polygon points="1437.3,909.1 1449.8,909.1 1443.6,920.8" fill="#fff"/><polygon points="1449.1,936.4 1475.1,936.4 1478.8,940.5 1463.1,967 1461.1,967 1445.3,940.5" fill="#757575"/><polygon points="1455.8,943.3 1468.3,943.3 1462.1,955" fill="#fff"/><polygon points="1467.6,972.2 1493.6,972.2 1497.4,976.3 1481.6,1002.8 1479.6,1002.8 1463.9,976.3" fill="#757575"/><polygon points="1474.4,979.1 1486.9,979.1 1480.6,990.8" fill="#fff"/><polygon points="1486.2,1008.2 1512.2,1008.2 1515.9,1012.3 1500.2,1038.8 1498.2,1038.8 1482.4,1012.3" fill="#757575"/><polygon points="1492.9,1015.1 1505.4,1015.1 1499.2,1026.8" fill="#fff"/><polygon points="1504.7,1046.7 1530.7,1046.7 1534.5,1050.8 1518.7,1077.3 1516.7,1077.3 1501,1050.8" fill="#757575"/><polygon points="1511.5,1053.6 1524,1053.6 1517.7,1065.3" fill="#fff"/><polygon points="1523.3,1086.4 1549.3,1086.4 1553,1090.5 1537.3,1117 1535.3,1117 1519.5,1090.5" fill="#757575"/><polygon points="1530,1093.3 1542.5,1093.3 1536.3,1105" fill="#fff"/><polygon points="1541.8,1129.2 1567.8,1129.2 1571.5,1133.3 1555.8,1159.8 1553.8,1159.8 1538,1133.3" fill="#757575"/><polygon points="1548.5,1136.1 1561,1136.1 1554.8,1147.8" fill="#fff"/><polygon points="1560.3,1169.7 1586.3,1169.7 1590.1,1173.8 1574.3,1200.3 1572.3,1200.3 1556.6,1173.8" fill="#757575"/><polygon points="1567.1,1176.6 1579.6,1176.6 1573.3,1188.3" fill="#fff"/><polygon points="1578.9,1214.7 1604.9,1214.7 1608.6,1218.8 1592.9,1245.3 1590.9,1245.3 1575.1,1218.8" fill="#757575"/><polygon points="1585.6,1221.6 1598.1,1221.6 1591.9,1233.3" fill="#fff"/>
</g>
<g>
<polygon points="256.1,263 257.9,263 275.6,279.7 275.6,281.5 257.9,298.2 256.1,298.2 238.4,281.5 238.4,279.7" fill="#808080"/><polygon points="257,272.1 266.1,280.6 257,289.1 247.9,280.6" fill="#fff"/><polygon points="274.6,263.3 276.4,263.3 294.1,280 294.1,281.8 276.4,298.5 274.6,298.5 256.9,281.8 256.9,280" fill="#808080"/><polygon points="275.5,272.4 284.6,280.9 275.5,289.4 266.4,280.9" fill="#fff"/><polygon points="293.2,263.6 295,263.6 312.7,280.3 312.7,282.1 295,298.8 293.2,298.8 275.5,282.1 275.5,280.3" fill="#808080"/><polygon points="294.1,272.7 303.2,281.2 294.1,289.7 285,281.2" fill="#fff"/><polygon points="311.7,264 313.5,264 331.2,280.7 331.2,282.5 313.5,299.2 311.7,299.2 294,282.5 294,280.7" fill="#808080"/><polygon points="312.6,273.1 321.7,281.6 312.6,290.1 303.5,281.6" fill="#fff"/><polygon points="330.3,264.3 332.1,264.3 349.8,281 349.8,282.8 332.1,299.5 330.3,299.5 312.6,282.8 312.6,281" fill="#808080"/><polygon points="331.2,273.4 340.3,281.9 331.2,290.4 322.1,281.9" fill="#fff"/><polygon points="348.8,264.6 350.6,264.6 368.3,281.3 368.3,283.1 350.6,299.8 348.8,299.8 331.1,283.1 331.1,281.3" fill="#808080"/><polygon points="349.7,273.7 358.8,282.2 349.7,290.7 340.6,282.2" fill="#fff"/><polygon points="367.3,264.8 369.1,264.8 386.8,281.5 386.8,283.3 369.1,300 367.3,300 349.6,283.3 349.6,281.5" fill="#808080"/><polygon points="368.2,273.9 377.3,282.4 368.2,290.9 359.1,282.4" fill="#fff"/><polygon points="385.9,265 387.7,265 405.4,281.7 405.4,283.5 387.7,300.2 385.9,300.2 368.2,283.5 368.2,281.7" fill="#808080"/><polygon points="386.8,274.1 395.9,282.6 386.8,291.1 377.7,282.6" fill="#fff"/><polygon points="404.4,265.3 406.2,265.3 423.9,282 423.9,283.8 406.2,300.5 404.4,300.5 386.7,283.8 386.7,282" fill="#808080"/><polygon points="405.3,274.4 414.4,282.9 405.3,291.4 396.2,282.9" fill="#fff"/><polygon points="423,265.5 424.8,265.5 442.5,282.2 442.5,284 424.8,300.7 423,300.7 405.3,284 405.3,282.2" fill="#808080"/><polygon points="423.9,274.6 433,283.1 423.9,291.6 414.8,283.1" fill="#fff"/><polygon points="441.5,265.7 443.3,265.7 461,282.4 461,284.2 443.3,300.9 441.5,300.9 423.8,284.2 423.8,282.4" fill="#808080"/><polygon points="442.4,274.8 451.5,283.3 442.4,291.8 433.3,283.3" fill="#fff"/><polygon points="460,265.9 461.8,265.9 479.5,282.6 479.5,284.4 461.8,301.1 460,301.1 442.3,284.4 442.3,282.6" fill="#808080"/><polygon points="460.9,275 470,283.5 460.9,292 451.8,283.5" fill="#fff"/><polygon points="478.6,266.1 480.4,266.1 498.1,282.9 498.1,284.6 480.4,301.4 478.6,301.4 460.9,284.6 460.9,282.9" fill="#808080"/><polygon points="479.5,275.2 488.6,283.8 479.5,292.2 470.4,283.8" fill="#fff"/><polygon points="497.1,266.4 498.9,266.4 516.6,283.1 516.6,284.9 498.9,301.6 497.1,301.6 479.4,284.9 479.4,283.1" fill="#808080"/><polygon points="498,275.5 507.1,284 498,292.5 488.9,284" fill="#fff"/><polygon points="515.7,266.6 517.5,266.6 535.2,283.3 535.2,285.1 517.5,301.8 515.7,301.8 498,285.1 498,283.3" fill="#808080"/><polygon points="516.6,275.7 525.7,284.2 516.6,292.7 507.5,284.2" fill="#fff"/><polygon points="534.2,266.8 536,266.8 553.7,283.5 553.7,285.3 536,302 534.2,302 516.5,285.3 516.5,283.5" fill="#808080"/><polygon points="535.1,275.9 544.2,284.4 535.1,292.9 526,284.4" fill="#fff"/><polygon points="552.7,267 554.5,267 572.2,283.7 572.2,285.5 554.5,302.2 552.7,302.2 535,285.5 535,283.7" fill="#808080"/><polygon points="553.6,276.1 562.7,284.6 553.6,293.1 544.5,284.6" fill="#fff"/><polygon points="571.3,267.3 573.1,267.3 590.8,284 590.8,285.8 573.1,302.5 571.3,302.5 553.6,285.8 553.6,284" fill="#808080"/><polygon points="572.2,276.4 581.3,284.9 572.2,293.4 563.1,284.9" fill="#fff"/><polygon points="589.8,267.5 591.6,267.5 609.3,284.2 609.3,286 591.6,302.7 589.8,302.7 572.1,286 572.1,284.2" fill="#808080"/><polygon points="590.7,276.6 599.8,285.1 590.7,293.6 581.6,285.1" fill="#fff"/><polygon points="608.4,267.7 610.2,267.7 627.9,284.4 627.9,286.2 610.2,302.9 608.4,302.9 590.7,286.2 590.7,284.4" fill="#808080"/><polygon points="609.3,276.8 618.4,285.3 609.3,293.8 600.2,285.3" fill="#fff"/><polygon points="626.9,268.2 628.7,268.2 646.4,284.9 646.4,286.7 628.7,303.4 626.9,303.4 609.2,286.7 609.2,284.9" fill="#808080"/><polygon points="627.8,277.3 636.9,285.8 627.8,294.3 618.7,285.8" fill="#fff"/><polygon points="645.4,268.7 647.2,268.7 664.9,285.4 664.9,287.2 647.2,303.9 645.4,303.9 627.7,287.2 627.7,285.4" fill="#808080"/><polygon points="646.3,277.8 655.4,286.3 646.3,294.8 637.2,286.3" fill="#fff"/><polygon points="664,269.3 665.8,269.3 683.5,286 683.5,287.8 665.8,304.5 664,304.5 646.3,287.8 646.3,286" fill="#808080"/><polygon points="664.9,278.4 674,286.9 664.9,295.4 655.8,286.9" fill="#fff"/><polygon points="682.5,269.8 684.3,269.8 702,286.5 702,288.3 684.3,305 682.5,305 664.8,288.3 664.8,286.5" fill="#808080"/><polygon points="683.4,278.9 692.5,287.4 683.4,295.9 674.3,287.4" fill="#fff"/><polygon points="701.1,270.3 702.9,270.3 720.6,287 720.6,288.8 702.9,305.5 701.1,305.5 683.4,288.8 683.4,287" fill="#808080"/><polygon points="702,279.4 711.1,287.9 702,296.4 692.9,287.9" fill="#fff"/><polygon points="719.6,270.8 721.4,270.8 739.1,287.5 739.1,289.3 721.4,306 719.6,306 701.9,289.3 701.9,287.5" fill="#808080"/><polygon points="720.5,279.9 729.6,288.4 720.5,296.9 711.4,288.4" fill="#fff"/><polygon points="738.1,271.3 739.9,271.3 757.6,288 757.6,289.8 739.9,306.5 738.1,306.5 720.4,289.8 720.4,288" fill="#808080"/><polygon points="739,280.4 748.1,288.9 739,297.4 729.9,288.9" fill="#fff"/><polygon points="756.7,271.8 758.5,271.8 776.2,288.5 776.2,290.3 758.5,307 756.7,307 739,290.3 739,288.5" fill="#808080"/><polygon points="757.6,280.9 766.7,289.4 757.6,297.9 748.5,289.4" fill="#fff"/><polygon points="775.2,272.4 777,272.4 794.7,289.1 794.7,290.9 777,307.6 775.2,307.6 757.5,290.9 757.5,289.1" fill="#808080"/><polygon points="776.1,281.5 785.2,290 776.1,298.5 767,290" fill="#fff"/><polygon points="793.8,272.9 795.6,272.9 813.3,289.6 813.3,291.4 795.6,308.1 793.8,308.1 776.1,291.4 776.1,289.6" fill="#808080"/><polygon points="794.7,282 803.8,290.5 794.7,299 785.6,290.5" fill="#fff"/><polygon points="812.3,273.4 814.1,273.4 831.8,290.1 831.8,291.9 814.1,308.6 812.3,308.6 794.6,291.9 794.6,290.1" fill="#808080"/><polygon points="813.2,282.5 822.3,291 813.2,299.5 804.1,291" fill="#fff"/><polygon points="830.8,274.2 832.6,274.2 850.3,290.9 850.3,292.7 832.6,309.4 830.8,309.4 813.1,292.7 813.1,290.9" fill="#808080"/><polygon points="831.7,283.3 840.8,291.8 831.7,300.3 822.6,291.8" fill="#fff"/><polygon points="849.4,275 851.2,275 868.9,291.7 868.9,293.5 851.2,310.2 849.4,310.2 831.7,293.5 831.7,291.7" fill="#808080"/><polygon points="850.3,284.1 859.4,292.6 850.3,301.1 841.2,292.6" fill="#fff"/><polygon points="867.9,275.8 869.7,275.8 887.4,292.5 887.4,294.3 869.7,311 867.9,311 850.2,294.3 850.2,292.5" fill="#808080"/><polygon points="868.8,284.9 877.9,293.4 868.8,301.9 859.7,293.4" fill="#fff"/><polygon points="886.5,276.6 888.3,276.6 906,293.3 906,295.1 888.3,311.8 886.5,311.8 868.8,295.1 868.8,293.3" fill="#808080"/><polygon points="887.4,285.7 896.5,294.2 887.4,302.7 878.3,294.2" fill="#fff"/><polygon points="905,277.4 906.8,277.4 924.5,294.1 924.5,295.9 906.8,312.6 905,312.6 887.3,295.9 887.3,294.1" fill="#808080"/><polygon points="905.9,286.5 915,295 905.9,303.5 896.8,295" fill="#fff"/><polygon points="923.5,278.2 925.3,278.2 943,294.9 943,296.7 925.3,313.4 923.5,313.4 905.8,296.7 905.8,294.9" fill="#808080"/><polygon points="924.4,287.3 933.5,295.8 924.4,304.3 915.3,295.8" fill="#fff"/><polygon points="942.1,279 943.9,279 961.6,295.7 961.6,297.5 943.9,314.2 942.1,314.2 924.4,297.5 924.4,295.7" fill="#808080"/><polygon points="943,288.1 952.1,296.6 943,305.1 933.9,296.6" fill="#fff"/><polygon points="960.6,279.8 962.4,279.8 980.1,296.5 980.1,298.3 962.4,315 960.6,315 942.9,298.3 942.9,296.5" fill="#808080"/><polygon points="961.5,288.9 970.6,297.4 961.5,305.9 952.4,297.4" fill="#fff"/><polygon points="979.2,280.6 981,280.6 998.7,297.3 998.7,299.1 981,315.8 979.2,315.8 961.5,299.1 961.5,297.3" fill="#808080"/><polygon points="980.1,289.7 989.2,298.2 980.1,306.7 971,298.2" fill="#fff"/><polygon points="997.7,281.4 999.5,281.4 1017.2,298.1 1017.2,299.9 999.5,316.6 997.7,316.6 980,299.9 980,298.1" fill="#808080"/><polygon points="998.6,290.5 1007.7,299 998.6,307.5 989.5,299" fill="#fff"/><polygon points="1016.2,284.4 1018,284.4 1035.7,301.1 1035.7,302.9 1018,319.6 1016.2,319.6 998.5,302.9 998.5,301.1" fill="#808080"/><polygon points="1017.1,293.5 1026.2,302 1017.1,310.5 1008,302" fill="#fff"/><polygon points="1034.8,287.1 1036.6,287.1 1054.3,303.8 1054.3,305.6 1036.6,322.3 1034.8,322.3 1017.1,305.6 1017.1,303.8" fill="#808080"/><polygon points="1035.7,296.2 1044.8,304.7 1035.7,313.2 1026.6,304.7" fill="#fff"/><polygon points="1053.3,291.6 1055.1,291.6 1072.8,308.3 1072.8,310.1 1055.1,326.8 1053.3,326.8 1035.6,310.1 1035.6,308.3" fill="#808080"/><polygon points="1054.2,300.7 1063.3,309.2 1054.2,317.7 1045.1,309.2" fill="#fff"/><polygon points="1071.9,298.2 1073.7,298.2 1091.4,314.9 1091.4,316.7 1073.7,333.4 1071.9,333.4 1054.2,316.7 1054.2,314.9" fill="#808080"/><polygon points="1072.8,307.3 1081.9,315.8 1072.8,324.3 1063.7,315.8" fill="#fff"/><polygon points="1090.4,306.2 1092.2,306.2 1109.9,322.9 1109.9,324.7 1092.2,341.4 1090.4,341.4 1072.7,324.7 1072.7,322.9" fill="#808080"/><polygon points="1091.3,315.3 1100.4,323.8 1091.3,332.3 1082.2,323.8" fill="#fff"/><polygon points="1108.9,316.4 1110.7,316.4 1128.4,333.1 1128.4,334.9 1110.7,351.6 1108.9,351.6 1091.2,334.9 1091.2,333.1" fill="#808080"/><polygon points="1109.8,325.5 1118.9,334 1109.8,342.5 1100.7,334" fill="#fff"/><polygon points="1127.5,328.9 1129.3,328.9 1147,345.6 1147,347.4 1129.3,364.1 1127.5,364.1 1109.8,347.4 1109.8,345.6" fill="#808080"/><polygon points="1128.4,338 1137.5,346.5 1128.4,355 1119.3,346.5" fill="#fff"/><polygon points="1146,344.9 1147.8,344.9 1165.5,361.6 1165.5,363.4 1147.8,380.1 1146,380.1 1128.3,363.4 1128.3,361.6" fill="#808080"/><polygon points="1146.9,354 1156,362.5 1146.9,371 1137.8,362.5" fill="#fff"/><polygon points="1164.6,362.4 1166.4,362.4 1184.1,379.1 1184.1,380.9 1166.4,397.6 1164.6,397.6 1146.9,380.9 1146.9,379.1" fill="#808080"/><polygon points="1165.5,371.5 1174.6,380 1165.5,388.5 1156.4,380" fill="#fff"/><polygon points="1183.1,383.4 1184.9,383.4 1202.6,400.1 1202.6,401.9 1184.9,418.6 1183.1,418.6 1165.4,401.9 1165.4,400.1" fill="#808080"/><polygon points="1184,392.5 1193.1,401 1184,409.5 1174.9,401" fill="#fff"/><polygon points="1201.6,407.4 1203.4,407.4 1221.1,424.1 1221.1,425.9 1203.4,442.6 1201.6,442.6 1183.9,425.9 1183.9,424.1" fill="#808080"/><polygon points="1202.5,416.5 1211.6,425 1202.5,433.5 1193.4,425" fill="#fff"/><polygon points="1220.2,433.6 1222,433.6 1239.7,450.3 1239.7,452.1 1222,468.8 1220.2,468.8 1202.5,452.1 1202.5,450.3" fill="#808080"/><polygon points="1221.1,442.7 1230.2,451.2 1221.1,459.7 1212,451.2" fill="#fff"/><polygon points="1238.7,462.9 1240.5,462.9 1258.2,479.6 1258.2,481.4 1240.5,498.1 1238.7,498.1 1221,481.4 1221,479.6" fill="#808080"/><polygon points="1239.6,472 1248.7,480.5 1239.6,489 1230.5,480.5" fill="#fff"/><polygon points="1257.3,494.9 1259.1,494.9 1276.8,511.6 1276.8,513.4 1259.1,530.1 1257.3,530.1 1239.6,513.4 1239.6,511.6" fill="#808080"/><polygon points="1258.2,504 1267.3,512.5 1258.2,521 1249.1,512.5" fill="#fff"/><polygon points="1275.8,529.9 1277.6,529.9 1295.3,546.6 1295.3,548.4 1277.6,565.1 1275.8,565.1 1258.1,548.4 1258.1,546.6" fill="#808080"/><polygon points="1276.7,539 1285.8,547.5 1276.7,556 1267.6,547.5" fill="#fff"/><polygon points="1294.3,567.7 1296.1,567.7 1313.8,584.4 1313.8,586.2 1296.1,602.9 1294.3,602.9 1276.6,586.2 1276.6,584.4" fill="#808080"/><polygon points="1295.2,576.8 1304.3,585.3 1295.2,593.8 1286.1,585.3" fill="#fff"/><polygon points="1312.9,608.2 1314.7,608.2 1332.4,624.9 1332.4,626.7 1314.7,643.4 1312.9,643.4 1295.2,626.7 1295.2,624.9" fill="#808080"/><polygon points="1313.8,617.3 1322.9,625.8 1313.8,634.3 1304.7,625.8" fill="#fff"/><polygon points="1331.4,650.4 1333.2,650.4 1350.9,667.1 1350.9,668.9 1333.2,685.6 1331.4,685.6 1313.7,668.9 1313.7,667.1" fill="#808080"/><polygon points="1332.3,659.5 1341.4,668 1332.3,676.5 1323.2,668" fill="#fff"/><polygon points="1350,695.2 1351.8,695.2 1369.5,711.9 1369.5,713.7 1351.8,730.4 1350,730.4 1332.3,713.7 1332.3,711.9" fill="#808080"/><polygon points="1350.9,704.3 1360,712.8 1350.9,721.3 1341.8,712.8" fill="#fff"/><polygon points="1368.5,740.9 1370.3,740.9 1388,757.6 1388,759.4 1370.3,776.1 1368.5,776.1 1350.8,759.4 1350.8,757.6" fill="#808080"/><polygon points="1369.4,750 1378.5,758.5 1369.4,767 1360.3,758.5" fill="#fff"/><polygon points="1387,789.9 1388.8,789.9 1406.5,806.6 1406.5,808.4 1388.8,825.1 1387,825.1 1369.3,808.4 1369.3,806.6" fill="#808080"/><polygon points="1387.9,799 1397,807.5 1387.9,816 1378.8,807.5" fill="#fff"/><polygon points="1405.6,839.4 1407.4,839.4 1425.1,856.1 1425.1,857.9 1407.4,874.6 1405.6,874.6 1387.9,857.9 1387.9,856.1" fill="#808080"/><polygon points="1406.5,848.5 1415.6,857 1406.5,865.5 1397.4,857" fill="#fff"/><polygon points="1424.1,891.9 1425.9,891.9 1443.6,908.6 1443.6,910.4 1425.9,927.1 1424.1,927.1 1406.4,910.4 1406.4,908.6" fill="#808080"/><polygon points="1425,901 1434.1,909.5 1425,918 1415.9,909.5" fill="#fff"/><polygon points="1442.7,943.9 1444.5,943.9 1462.2,960.6 1462.2,962.4 1444.5,979.1 1442.7,979.1 1425,962.4 1425,960.6" fill="#808080"/><polygon points="1443.6,953 1452.7,961.5 1443.6,970 1434.5,961.5" fill="#fff"/><polygon points="1461.2,999.4 1463,999.4 1480.7,1016.1 1480.7,1017.9 1463,1034.6 1461.2,1034.6 1443.5,1017.9 1443.5,1016.1" fill="#808080"/><polygon points="1462.1,1008.5 1471.2,1017 1462.1,1025.5 1453,1017" fill="#fff"/><polygon points="1479.7,1054.4 1481.5,1054.4 1499.2,1071.1 1499.2,1072.9 1481.5,1089.6 1479.7,1089.6 1462,1072.9 1462,1071.1" fill="#808080"/><polygon points="1480.6,1063.5 1489.7,1072 1480.6,1080.5 1471.5,1072" fill="#fff"/><polygon points="1498.3,1113.2 1500.1,1113.2 1517.8,1129.9 1517.8,1131.7 1500.1,1148.4 1498.3,1148.4 1480.6,1131.7 1480.6,1129.9" fill="#808080"/><polygon points="1499.2,1122.3 1508.3,1130.8 1499.2,1139.3 1490.1,1130.8" fill="#fff"/><polygon points="1516.8,1169.9 1518.6,1169.9 1536.3,1186.6 1536.3,1188.4 1518.6,1205.1 1516.8,1205.1 1499.1,1188.4 1499.1,1186.6" fill="#808080"/><polygon points="1517.7,1179 1526.8,1187.5 1517.7,1196 1508.6,1187.5" fill="#fff"/>
</g>
</g>
<g>
<text x="137" y="160.5" font-size="86.5" letter-spacing="-2.9">15</text>
<text x="137" y="378.3" font-size="86.5" letter-spacing="-1.9">12</text>
<text x="184.3" y="597.6" font-size="86.5">9</text>
<text x="184.35" y="814.8" font-size="86.5">6</text>
<text x="186.2" y="1032.2" font-size="86.5" textLength="44.9" lengthAdjust="spacingAndGlyphs">3</text>
<text x="183.6" y="1249.9" font-size="86.5">0</text>
<text x="193" y="1316.2" font-size="86.5" letter-spacing="1.95">0.0</text>
<text x="566.5" y="1316.2" font-size="86.5" letter-spacing="0.38">0.2</text>
<text x="935" y="1316.2" font-size="86.5" letter-spacing="-0.12">0.4</text>
<text x="1305.5" y="1316.2" font-size="86.5" letter-spacing="0.25">0.6</text>
<text x="1676.5" y="1316.2" font-size="86.5">0.8</text>
<text y="1424.0" font-size="88.5" stroke="#fff" stroke-width="1.2"><tspan x="759.5" letter-spacing="0.46">Votage </tspan><tspan x="1073.15" y="1422.6" font-size="85" textLength="26.9" lengthAdjust="spacingAndGlyphs">(</tspan><tspan x="1102.8" y="1424">V</tspan><tspan x="1162.95" y="1422.6" font-size="85" textLength="26.9" lengthAdjust="spacingAndGlyphs">)</tspan></text>
<text transform="translate(106 1400) rotate(-90) scale(1 1.04)" y="0" font-size="89.8" stroke="#fff" stroke-width="1.4"><tspan x="17.05" letter-spacing="-0.09">Photo </tspan><tspan x="296.4" letter-spacing="0.22">Current </tspan><tspan x="645.55" letter-spacing="-0.27">Density </tspan><tspan x="996.3" y="-1.5" font-size="72">(</tspan><tspan x="1021.85" y="0" letter-spacing="-0.22">mA/cm</tspan><tspan x="1320.85" y="-31.5">2</tspan><tspan x="1372.7" y="-1.5" font-size="72">)</tspan></text>
<text y="206.5" font-size="73" stroke="#fff" stroke-width="1.0"><tspan x="472.75" letter-spacing="0.14">Inkjet-printed </tspan><tspan x="959" letter-spacing="-1.75">TiO</tspan><tspan x="1079.05" y="236.7" font-size="44" stroke="#0a0a0a" stroke-width="0.5">2 </tspan><tspan x="1121.95" y="206.5" letter-spacing="0.31">Annealing </tspan><tspan x="1497.9" letter-spacing="1.2">Temp.</tspan></text>
<text y="375.95" font-size="73"><tspan x="353.7" letter-spacing="-0.27">450 </tspan><tspan x="497.55" y="332.8" font-size="45.5">o</tspan><tspan x="522.3" y="375.95" textLength="49.6" lengthAdjust="spacingAndGlyphs">C</tspan></text>
<text y="595.25" font-size="73"><tspan x="356.25" letter-spacing="-1.5">350 </tspan><tspan x="497.55" y="552.8" font-size="45.5">o</tspan><tspan x="524.3" y="595.25" textLength="49.6" lengthAdjust="spacingAndGlyphs">C</tspan></text>
<text y="854.55" font-size="73"><tspan x="355.5" letter-spacing="-0.52">250 </tspan><tspan x="499.55" y="812.8" font-size="45.5">o</tspan><tspan x="524.3" y="854.55" textLength="49.6" lengthAdjust="spacingAndGlyphs">C</tspan></text>
<text y="1112.25" font-size="73"><tspan x="354.8" letter-spacing="-0.12">150 </tspan><tspan x="499.55" y="1073.2" font-size="45.5">o</tspan><tspan x="524.3" y="1112.25" textLength="49.6" lengthAdjust="spacingAndGlyphs">C</tspan></text>
</g>
<g fill="#fff">
<rect x="140.46" y="150.88" width="16.49" height="11.12"/>
<rect x="169.29" y="150.88" width="14.85" height="11.12"/>
<rect x="140.46" y="368.68" width="16.49" height="11.12"/>
<rect x="169.29" y="368.68" width="14.85" height="11.12"/>
<rect x="357.72" y="1104" width="13.89" height="9.75"/>
<rect x="382.08" y="1104" width="12.5" height="9.75"/>
</g>
</g>
</svg>
</body>
</html>
